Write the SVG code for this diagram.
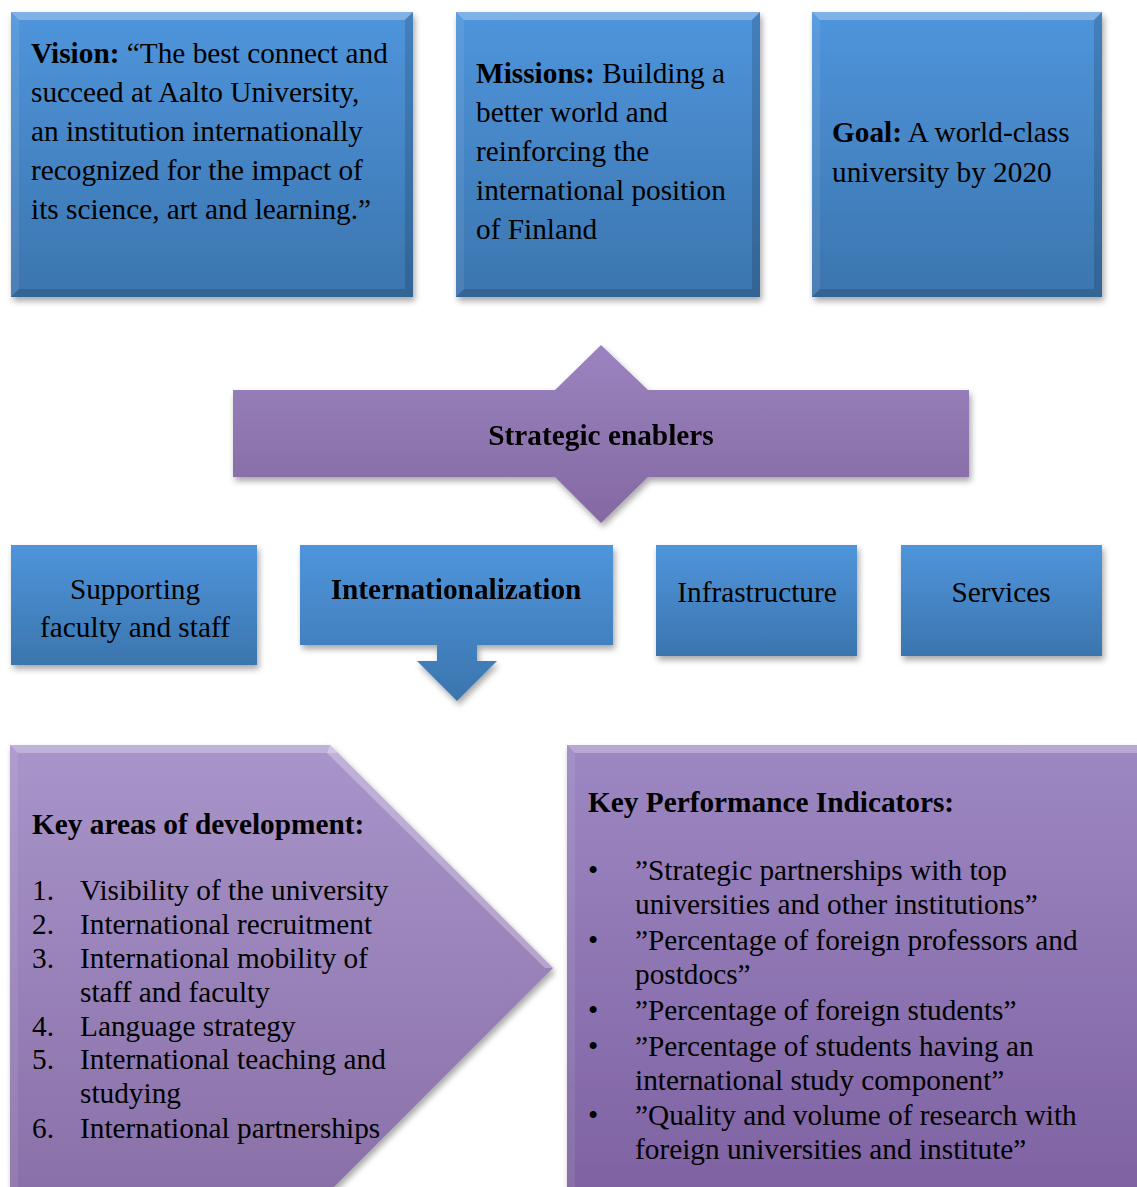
<svg xmlns="http://www.w3.org/2000/svg" width="1137" height="1187" viewBox="0 0 1137 1187">
<defs>
<linearGradient id="gBlue" x1="0" y1="0" x2="0" y2="1">
<stop offset="0" stop-color="#4f95dc"/>
<stop offset="1" stop-color="#3b75ae"/>
</linearGradient>
<linearGradient id="gPurp" x1="0" y1="0" x2="0" y2="1">
<stop offset="0" stop-color="#9a84bf"/>
<stop offset="1" stop-color="#8468a2"/>
</linearGradient>
<linearGradient id="gPent" x1="0" y1="0" x2="0" y2="1">
<stop offset="0" stop-color="#a895ca"/>
<stop offset="1" stop-color="#8a70a8"/>
</linearGradient>
<linearGradient id="gKpi" x1="0" y1="0" x2="0" y2="1">
<stop offset="0" stop-color="#9d88c3"/>
<stop offset="1" stop-color="#7d60a0"/>
</linearGradient>
<filter id="sh" x="-10%" y="-10%" width="125%" height="130%">
<feDropShadow dx="2" dy="4" stdDeviation="3" flood-color="#000" flood-opacity="0.35"/>
</filter>
</defs>
<style>
text{font-family:"Liberation Serif","Times New Roman",serif;fill:#000;font-size:29.3px}
.b{font-weight:bold}
.c{text-anchor:middle}
.lt{fill:#fff;opacity:0.28}
.dk{fill:#000;opacity:0.14}
.ls{fill:#fff;opacity:0.08}
</style>

<g id="vision">
<rect x="11" y="12" width="402" height="285" fill="url(#gBlue)" filter="url(#sh)"/>
<polygon class="lt" points="11,12 413,12 405,20 19,20"/>
<polygon class="dk" points="11,297 413,297 405,289 19,289"/>
<polygon class="ls" points="11,12 19,20 19,289 11,297"/>
<polygon class="dk" points="413,12 405,20 405,289 413,297"/>
<text x="31" y="63"><tspan class="b">Vision:</tspan> “The best connect and</text>
<text x="31" y="102">succeed at Aalto University,</text>
<text x="31" y="141">an institution internationally</text>
<text x="31" y="180">recognized for the impact of</text>
<text x="31" y="219">its science, art and learning.”</text>
</g>

<g id="missions">
<rect x="456" y="12" width="304" height="285" fill="url(#gBlue)" filter="url(#sh)"/>
<polygon class="lt" points="456,12 760,12 752,20 464,20"/>
<polygon class="dk" points="456,297 760,297 752,289 464,289"/>
<polygon class="ls" points="456,12 464,20 464,289 456,297"/>
<polygon class="dk" points="760,12 752,20 752,289 760,297"/>
<text x="476" y="83"><tspan class="b">Missions:</tspan> Building a</text>
<text x="476" y="122">better world and</text>
<text x="476" y="161">reinforcing the</text>
<text x="476" y="200">international position</text>
<text x="476" y="239">of Finland</text>
</g>

<g id="goal">
<rect x="812" y="12" width="290" height="285" fill="url(#gBlue)" filter="url(#sh)"/>
<polygon class="lt" points="812,12 1102,12 1094,20 820,20"/>
<polygon class="dk" points="812,297 1102,297 1094,289 820,289"/>
<polygon class="ls" points="812,12 820,20 820,289 812,297"/>
<polygon class="dk" points="1102,12 1094,20 1094,289 1102,297"/>
<text x="832" y="142"><tspan class="b">Goal:</tspan> A world-class</text>
<text x="832" y="182">university by 2020</text>
</g>

<g id="strategic-enablers" filter="url(#sh)">
<polygon points="601,345 648,390 969,390 969,477 648,477 601,523 555,477 233,477 233,390 555,390" fill="url(#gPurp)"/>
<text class="b c" x="601" y="445">Strategic enablers</text>
</g>

<g id="supporting">
<rect x="11" y="545" width="246" height="120" fill="url(#gBlue)" filter="url(#sh)"/>
<text class="c" x="135" y="599">Supporting</text>
<text class="c" x="135" y="637">faculty and staff</text>
</g>

<g id="internationalization" filter="url(#sh)">
<polygon points="300,545 613,545 613,645 477,645 477,661 497,661 457,701 417,661 437,661 437,645 300,645" fill="url(#gBlue)"/>
<text class="b c" x="456" y="599">Internationalization</text>
</g>

<g id="infrastructure">
<rect x="656" y="545" width="201" height="111" fill="url(#gBlue)" filter="url(#sh)"/>
<text class="c" x="757" y="602">Infrastructure</text>
</g>

<g id="services">
<rect x="901" y="545" width="201" height="111" fill="url(#gBlue)" filter="url(#sh)"/>
<text class="c" x="1001" y="602">Services</text>
</g>

<g id="key-areas">
<polygon points="10,745 330,745 553,968 330,1191 10,1191" fill="url(#gPent)" filter="url(#sh)"/>
<polygon class="lt" points="10,745 330,745 338,753 18,753"/>
<polygon class="ls" points="10,745 18,753 18,1191 10,1191"/>
<polygon class="lt" points="330,745 553,968 545,968 327,753" opacity="0.12"/>
<text class="b" x="32" y="834">Key areas of development:</text>
<text x="32" y="900">1.</text><text x="80" y="900">Visibility of the university</text>
<text x="32" y="934">2.</text><text x="80" y="934">International recruitment</text>
<text x="32" y="968">3.</text><text x="80" y="968">International mobility of</text>
<text x="80" y="1002">staff and faculty</text>
<text x="32" y="1036">4.</text><text x="80" y="1036">Language strategy</text>
<text x="32" y="1069">5.</text><text x="80" y="1069">International teaching and</text>
<text x="80" y="1103">studying</text>
<text x="32" y="1138">6.</text><text x="80" y="1138">International partnerships</text>
</g>

<g id="kpi">
<rect x="567" y="745" width="600" height="470" fill="url(#gKpi)" filter="url(#sh)"/>
<polygon class="lt" points="567,745 1167,745 1159,753 575,753"/>
<polygon class="ls" points="567,745 575,753 575,1215 567,1215"/>
<text class="b" x="588" y="812">Key Performance Indicators:</text>
<text x="588" y="880">•</text><text x="635" y="880">”Strategic partnerships with top</text>
<text x="635" y="914">universities and other institutions”</text>
<text x="588" y="950">•</text><text x="635" y="950">”Percentage of foreign professors and</text>
<text x="635" y="984">postdocs”</text>
<text x="588" y="1020">•</text><text x="635" y="1020">”Percentage of foreign students”</text>
<text x="588" y="1056">•</text><text x="635" y="1056">”Percentage of students having an</text>
<text x="635" y="1090">international study component”</text>
<text x="588" y="1125">•</text><text x="635" y="1125">”Quality and volume of research with</text>
<text x="635" y="1159">foreign universities and institute”</text>
</g>

<g id="connectors"></g>
</svg>
